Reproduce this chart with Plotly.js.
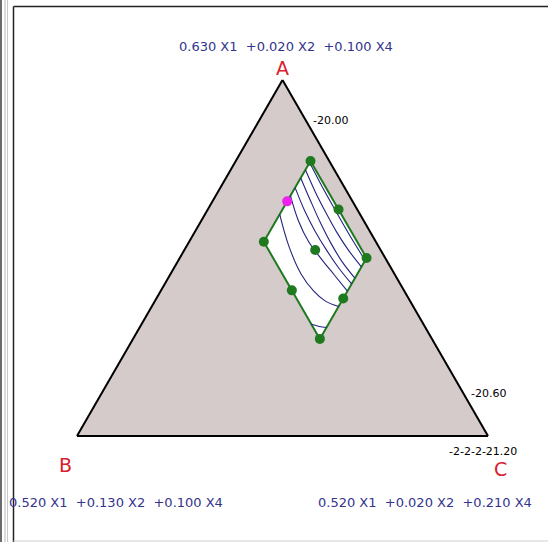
<!DOCTYPE html>
<html>
<head>
<meta charset="utf-8">
<script src="https://cdn.plot.ly/plotly-3.0.1.min.js"></script>
<style>html,body{margin:0;padding:0;background:#fff;}#chart{width:548px;height:542px;}</style>
</head>
<body>
<div id="chart"></div>
<script>
// ---- Data (actual mixture fractions; X1 = 0.75 - X2 - X4) ----
const componentSum = 0.75;
const minX1 = 0.52, minX2 = 0.02, minX4 = 0.10;

// feasible region (polygon vertices)
const regionX2 = [0.025, 0.025, 0.05, 0.05, 0.025];
const regionX4 = [0.12, 0.15, 0.15, 0.12, 0.12];

// design points
const designX2 = [0.025, 0.025, 0.025, 0.0375, 0.05, 0.05, 0.05, 0.0375];
const designX4 = [0.12, 0.135, 0.15, 0.15, 0.15, 0.135, 0.12, 0.135];

// highlighted point
const selX2 = [0.0375];
const selX4 = [0.12];

// contour lines
const contour1X2 = [0.0255, 0.02588, 0.0260, 0.0260, 0.02575];
const contour1X4 = [0.1200, 0.1275, 0.1350, 0.1425, 0.1500];
const contour2X2 = [0.02775, 0.0285, 0.02888, 0.0290, 0.02863, 0.02775];
const contour2X4 = [0.1200, 0.1260, 0.1320, 0.1380, 0.1440, 0.1500];
const contour3X2 = [0.03025, 0.03113, 0.03188, 0.03225, 0.03213, 0.03125];
const contour3X4 = [0.1200, 0.1260, 0.1320, 0.1380, 0.1440, 0.1500];
const contour4X2 = [0.03325, 0.03425, 0.03463, 0.0345, 0.0340, 0.0330];
const contour4X4 = [0.1200, 0.1260, 0.1320, 0.1380, 0.1440, 0.1500];
const contour5X2 = [0.03575, 0.0375, 0.0380, 0.03725, 0.03625, 0.03525];
const contour5X4 = [0.1200, 0.1260, 0.1320, 0.1380, 0.1440, 0.1500];
const contour6X2 = [0.0415, 0.0440, 0.0450, 0.04425, 0.04275, 0.0400];
const contour6X4 = [0.1200, 0.1275, 0.1350, 0.1410, 0.1455, 0.1500];
const contour7X2 = [0.0500, 0.04825, 0.0465];
const contour7X4 = [0.1455, 0.1479, 0.1500];

const vertexLabels = ['A', 'B', 'C'];
const vertexFormulas = ['0.630 X1  +0.020 X2  +0.100 X4', '0.520 X1  +0.130 X2  +0.100 X4', '0.520 X1  +0.020 X2  +0.210 X4'];
const levelLabels = ['-20.00', '-20.60', '-2-2-2-21.20'];

// ---- Layout constants ----
const W = 548, H = 542;
const M = {l: 77, r: 60, t: 80, b: 106};
const PW = W - M.l - M.r, PH = H - M.t - M.b;
const px = x => (x - M.l) / PW;
const py = y => (H - M.b - y) / PH;

const navy = '#34348e';
const red = '#d8202e';
const green = '#1f7a1f';
const contourColor = '#23237e';

const traces = [];
traces.push({
  type: 'scatterternary', mode: 'lines', b: regionX2, c: regionX4,
  fill: 'toself', fillcolor: '#ffffff',
  line: {color: green, width: 2}, hoverinfo: 'skip'
});
const contours = [
  [contour1X2, contour1X4], [contour2X2, contour2X4], [contour3X2, contour3X4],
  [contour4X2, contour4X4], [contour5X2, contour5X4], [contour6X2, contour6X4],
  [contour7X2, contour7X4]
];
contours.forEach(([b, c]) => traces.push({
  type: 'scatterternary', mode: 'lines', b: b, c: c,
  line: {color: contourColor, width: 1.1, shape: 'spline', smoothing: 1}, hoverinfo: 'skip'
}));
traces.push({
  type: 'scatterternary', mode: 'markers', b: designX2, c: designX4,
  marker: {color: green, size: 10, line: {width: 0}}, hoverinfo: 'skip'
});
traces.push({
  type: 'scatterternary', mode: 'markers', b: selX2, c: selX4,
  marker: {color: '#ee22ee', size: 10, line: {width: 0}}, hoverinfo: 'skip'
});

const axisStyle = (mn) => ({
  min: mn, showline: true, linecolor: '#000', linewidth: 2,
  showgrid: false, showticklabels: false, ticks: '', title: {text: ''}
});

const ann = (x, y, text, size, color, extra) => Object.assign({
  xref: 'paper', yref: 'paper', x: px(x), y: py(y), text: text, showarrow: false,
  xanchor: 'center', yanchor: 'middle',
  font: {family: 'DejaVu Sans, Verdana, sans-serif', size: size, color: color}
}, extra || {});

const annotations = [
  ann(286, 47, vertexFormulas[0], 13, navy),
  ann(282, 68, vertexLabels[0], 19, red),
  ann(65, 465, vertexLabels[1], 19, red),
  ann(500, 469, vertexLabels[2], 19, red),
  ann(115.5, 502, vertexFormulas[1], 13, navy),
  ann(424.5, 502, vertexFormulas[2], 13, navy),
  ann(330, 120, levelLabels[0], 11, '#000'),
  ann(488, 393, levelLabels[1], 11, '#000'),
  ann(483, 451, levelLabels[2], 11, '#000', {bgcolor: '#ffffff', borderpad: 1})
];

const line = (x0, y0, x1, y1, color, width) => ({
  type: 'line', xref: 'paper', yref: 'paper', layer: 'below',
  x0: px(x0), y0: py(y0), x1: px(x1), y1: py(y1),
  line: {color: color, width: width}
});
const shapes = [
  line(1, 0, 1, H, '#3a3a3a', 1.5),
  line(5, 0, 5, H, '#b8b8b8', 1),
  line(7.5, 0, 7.5, H, '#c8c8c8', 1),
  line(13.5, 6.5, 13.5, H, '#222', 1.5),
  line(13.5, 6.5, W, 6.5, '#222', 1.5),
  line(13.5, H - 1, W, H - 1, '#d0d0d0', 1)
];

const layout = {
  width: W, height: H,
  margin: {l: M.l, r: M.r, t: M.t, b: M.b, pad: 0},
  paper_bgcolor: '#ffffff',
  showlegend: false,
  ternary: {
    sum: componentSum,
    bgcolor: '#d4cbca',
    domain: {x: [0, 1], y: [0, 1]},
    aaxis: axisStyle(minX1),
    baxis: axisStyle(minX2),
    caxis: axisStyle(minX4)
  },
  annotations: annotations,
  shapes: shapes
};

Plotly.newPlot('chart', traces, layout, {staticPlot: true, displayModeBar: false});
</script>
</body>
</html>
